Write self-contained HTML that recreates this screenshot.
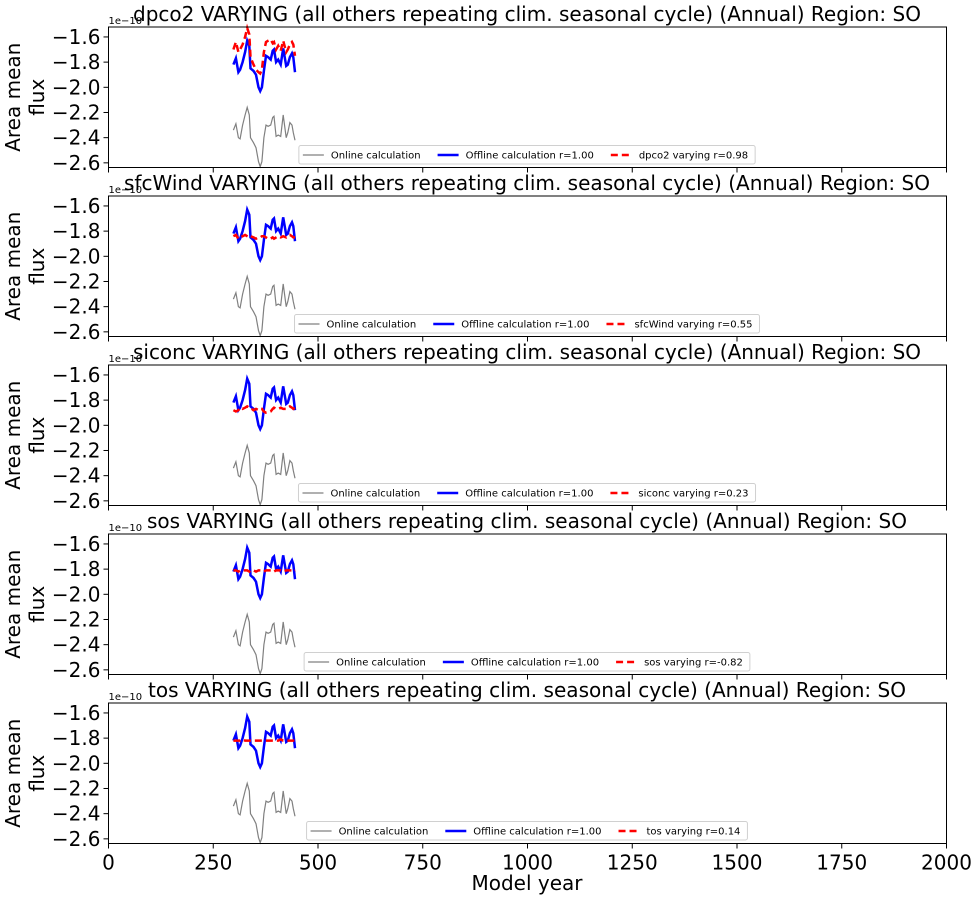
<!DOCTYPE html>
<html><head><meta charset="utf-8"><style>
body{margin:0;background:#fff;}
svg{display:block;font-family:"DejaVu Sans","Liberation Sans",sans-serif;}
</style></head><body>
<svg id="fig" width="977" height="899" viewBox="0 0 977 899"></svg>
<script>
const years=[298,304,310,314,320,326,331,336,339,346,352,358,362,366,371,376,381,387,392,395,400,405,411,417,424,428,433,438,441,445];
const offline=[-1.82,-1.77,-1.88,-1.86,-1.80,-1.72,-1.63,-1.67,-1.85,-1.87,-1.90,-2.00,-2.03,-2.00,-1.87,-1.75,-1.76,-1.78,-1.71,-1.70,-1.80,-1.78,-1.82,-1.69,-1.83,-1.82,-1.76,-1.73,-1.76,-1.88];
const online=[-2.34,-2.29,-2.40,-2.41,-2.30,-2.22,-2.16,-2.22,-2.40,-2.44,-2.48,-2.59,-2.63,-2.59,-2.40,-2.30,-2.31,-2.30,-2.24,-2.23,-2.39,-2.38,-2.39,-2.22,-2.40,-2.36,-2.28,-2.30,-2.36,-2.42];
const varDpco2=[-1.70,-1.64,-1.72,-1.70,-1.66,-1.60,-1.53,-1.58,-1.76,-1.82,-1.86,-1.88,-1.89,-1.86,-1.72,-1.64,-1.63,-1.62,-1.65,-1.64,-1.70,-1.67,-1.71,-1.63,-1.72,-1.70,-1.66,-1.64,-1.66,-1.75];
const varSfcWind=[-1.84,-1.83,-1.86,-1.85,-1.84,-1.83,-1.84,-1.85,-1.84,-1.85,-1.86,-1.85,-1.85,-1.84,-1.84,-1.85,-1.86,-1.86,-1.85,-1.86,-1.85,-1.84,-1.85,-1.84,-1.85,-1.84,-1.83,-1.84,-1.85,-1.85];
const varSiconc=[-1.88,-1.89,-1.88,-1.86,-1.87,-1.86,-1.85,-1.86,-1.86,-1.88,-1.87,-1.88,-1.87,-1.87,-1.89,-1.90,-1.90,-1.89,-1.87,-1.86,-1.87,-1.87,-1.86,-1.87,-1.87,-1.86,-1.85,-1.86,-1.87,-1.86];
const varSos=[-1.81,-1.81,-1.82,-1.81,-1.81,-1.81,-1.81,-1.82,-1.81,-1.81,-1.82,-1.81,-1.81,-1.81,-1.82,-1.81,-1.81,-1.81,-1.81,-1.82,-1.81,-1.81,-1.81,-1.82,-1.81,-1.81,-1.81,-1.81,-1.82,-1.81];
const varTos=[-1.82,-1.82,-1.82,-1.82,-1.81,-1.82,-1.82,-1.82,-1.82,-1.82,-1.82,-1.82,-1.82,-1.82,-1.82,-1.82,-1.82,-1.82,-1.82,-1.82,-1.82,-1.82,-1.81,-1.82,-1.82,-1.82,-1.82,-1.82,-1.82,-1.82];
const varNames=["dpco2","sfcWind","siconc","sos","tos"];
const varSeries=[varDpco2,varSfcWind,varSiconc,varSos,varTos];
const varR=["0.98","0.55","0.23","-0.82","0.14"];
const yTicks=[-1.6,-1.8,-2.0,-2.2,-2.4,-2.6];
const xTicks=[0,250,500,750,1000,1250,1500,1750,2000];
const titleWidths=[788,806,788,760,758];

const NS="http://www.w3.org/2000/svg";
const svg=document.getElementById('fig');
function mk(tag,attrs,parent){const e=document.createElementNS(NS,tag);for(const k in attrs)e.setAttribute(k,attrs[k]);(parent||svg).appendChild(e);return e;}
const L=108.5,R=946.5,H=140.5;
const tops=[27,196,365,534,703];
const yMin=-2.637,yMax=-1.521;
function xs(v){return L+(v-0)/(2000-0)*(R-L);}
function fmt(v){return (v<0?"\u2212":"")+Math.abs(v).toFixed(1);}
const meas=document.createElement('canvas').getContext('2d');
meas.font='10px "DejaVu Sans", sans-serif';

varNames.forEach((nm,i)=>{
  const T=tops[i],B=T+H;
  const ys=v=>B-(v-yMin)/(yMax-yMin)*H;
  const g=mk('g',{});
  
  
  const title=mk('text',{x:527,y:T-6,'text-anchor':'middle','font-size':20,fill:'#000',textLength:titleWidths[i],lengthAdjust:'spacingAndGlyphs'},g);
  title.textContent=nm+' VARYING (all others repeating clim. seasonal cycle) (Annual) Region: SO';
  
  
  const off=mk('text',{x:L,y:T-3,'font-size':10,fill:'#000'},g);
  off.textContent='1e\u221210';
  
  
  const yl=mk('text',{transform:`translate(24,${T+H/2}) rotate(-90)`,'text-anchor':'middle','font-size':20,fill:'#000'},g);
  
  
  const t1=mk('tspan',{x:0,dy:-4},yl);t1.textContent='Area mean';
  const t2=mk('tspan',{x:0,dy:24},yl);t2.textContent='flux';
  yTicks.forEach(t=>{
    const y=ys(t);
    const tk=mk('line',{x1:L-5,x2:L,y1:y,y2:y,stroke:'#000','stroke-width':1},g);
    
    
    const lb=mk('text',{x:L-8,y:y+7,'text-anchor':'end','font-size':20,fill:'#000'},g);
    lb.textContent=fmt(t);
    
    
  });
  xTicks.forEach(t=>{
    const x=xs(t);
    const tk=mk('line',{x1:x,x2:x,y1:B,y2:B+5,stroke:'#000','stroke-width':1},g);
    
    
    if(i===4){
      const lb=mk('text',{x:x,y:B+26,'text-anchor':'middle','font-size':20,fill:'#000'},g);
      lb.textContent=String(t);
      
      
    }
  });
  const pts=arr=>arr.map((v,k)=>xs(years[k]).toFixed(1)+','+ys(v).toFixed(1)).join(' ');
  const lOn=mk('polyline',{points:pts(online),fill:'none',stroke:'#808080','stroke-width':1.2},g);
  
  
  const lOff=mk('polyline',{points:pts(offline),fill:'none',stroke:'#0000ff','stroke-width':2.5},g);
  
  
  const lVar=mk('polyline',{points:pts(varSeries[i]),fill:'none',stroke:'#ff0000','stroke-width':2.5,'stroke-dasharray':'7,4'},g);
  
  
  const frame=mk('rect',{x:L,y:T,width:R-L,height:H,fill:'none',stroke:'#000','stroke-width':1},g);
  
  
  const labels=['Online calculation','Offline calculation r=1.00',nm+' varying r='+varR[i]];
  const widths=labels.map(s=>meas.measureText(s).width);
  const gap=16;
  const total=8+widths.reduce((a,w)=>a+22+7+w,0)+2*gap+2;
  const lx=527-total/2, ly=B-22;
  const leg=mk('g',{},g);
  
  
  mk('rect',{x:lx,y:ly,width:total,height:18.5,rx:2,fill:'#fff','fill-opacity':0.8,stroke:'#d0d0d0','stroke-width':1},leg);
  let cx=lx+4;
  const styles=[{stroke:'#808080','stroke-width':1.2},{stroke:'#0000ff','stroke-width':2.5},{stroke:'#ff0000','stroke-width':2.5,'stroke-dasharray':'7,4'}];
  const names=['legend-entry-online','legend-entry-offline','legend-entry-varying'];
  labels.forEach((s,k)=>{
    const eg=mk('g',{},leg);
    
    
    mk('line',Object.assign({x1:cx,x2:cx+21,y1:ly+9.5,y2:ly+9.5},styles[k]),eg);
    const tx=mk('text',{x:cx+28,y:ly+13,'font-size':10,fill:'#000'},eg);
    tx.textContent=s;
    cx+=22+7+widths[k]+gap;
  });
});
const xt=mk('text',{x:527,y:890,'text-anchor':'middle','font-size':20,fill:'#000'});
xt.textContent='Model year';


</script>
</body></html>
